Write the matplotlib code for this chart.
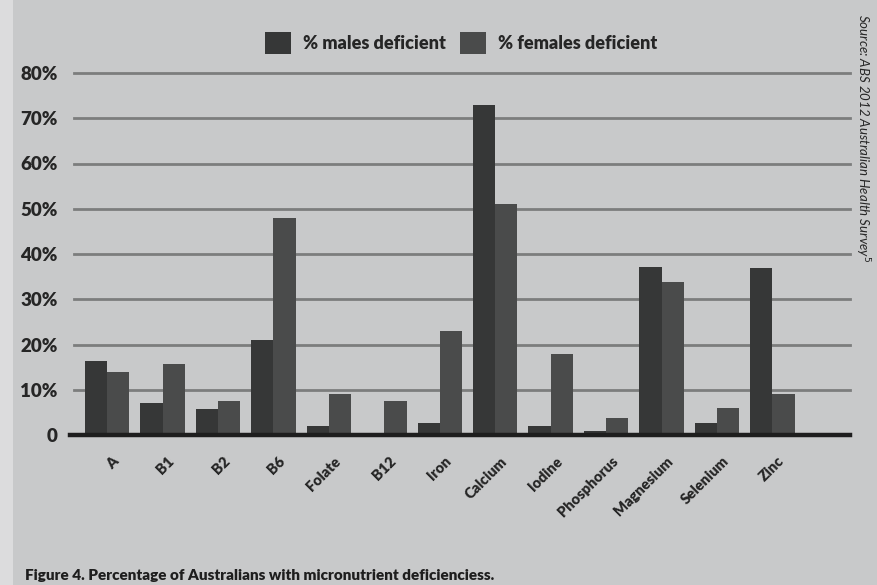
import matplotlib
matplotlib.use("Agg")
import matplotlib.pyplot as plt
import matplotlib.transforms as mtransforms
from matplotlib.patches import Rectangle
import numpy as np

# Micronutrient deficiency rates, ABS 2012 Australian Health Survey
nutrients = ["A", "B1", "B2", "B6", "Folate", "B12", "Iron", "Calcium",
             "Iodine", "Phosphorus", "Magnesium", "Selenium", "Zinc"]
males_pct = [16.4, 7.1, 5.7, 21, 2, 0, 2.6, 73, 2, 0.8, 37.2, 2.7, 37]
females_pct = [14, 15.8, 7.6, 48, 9, 7.6, 23, 51, 17.8, 3.8, 33.9, 5.9, 9]
y_ticks = [0, 10, 20, 30, 40, 50, 60, 70, 80]
y_tick_labels = ["0", "10%", "20%", "30%", "40%", "50%", "60%", "70%", "80%"]

BG = "#c8c9ca"
MALE_C = "#363737"
FEMALE_C = "#4a4b4b"
GRID_C = "#7c7d7d"
TEXT_C = "#262626"
FONT = ["Lato", "DejaVu Sans"]

fig = plt.figure(figsize=(8.77, 5.85), dpi=100, facecolor=BG)
# lighter margin strip along the left edge of the page
fig.patches.append(Rectangle((0, 0), 13 / 877, 1, transform=fig.transFigure,
                             facecolor="#dcdcdd", edgecolor="none", zorder=0))

ax = fig.add_axes([70 / 877, 1 - 435 / 585, (850 - 70) / 877, (435 - 73) / 585])
ax.set_facecolor(BG)

x = np.arange(len(nutrients))
w = 0.4
bm = ax.bar(x - w / 2, males_pct, w, color=MALE_C, zorder=3,
            label="% males deficient")
bf = ax.bar(x + w / 2, females_pct, w, color=FEMALE_C, zorder=3,
            label="% females deficient")

ax.set_xlim(-0.67, 13.4)
ax.set_ylim(0, 80)

# horizontal gridlines
for yv in y_ticks[1:]:
    ax.axhline(yv, color=GRID_C, lw=2.0, zorder=1, clip_on=False,
               xmin=0.005, xmax=1.0)
# baseline
ax.axhline(0, color="#1e1e1e", lw=3.2, zorder=4, clip_on=False)

for s in ax.spines.values():
    s.set_visible(False)

ax.set_yticks(y_ticks)
ax.set_yticklabels(y_tick_labels, family=FONT, fontweight="heavy",
                   fontsize=13.5, color=TEXT_C)
ax.tick_params(axis="y", length=0, pad=9)

ax.set_xticks(x)
ax.set_xticklabels(nutrients, rotation=45, ha="right", va="top",
                   rotation_mode="anchor", family=FONT, fontweight="heavy",
                   fontsize=10.5, color=TEXT_C)
ax.tick_params(axis="x", length=0, pad=14)
offset = mtransforms.ScaledTranslation(5 / 100, 0, fig.dpi_scale_trans)
for lbl in ax.get_xticklabels():
    lbl.set_transform(lbl.get_transform() + offset)

leg = ax.legend(handles=[bm, bf], loc="center", ncol=2,
                bbox_to_anchor=(461 / 877, 1 - 43 / 585),
                bbox_transform=fig.transFigure, frameon=False,
                handlelength=1.45, handleheight=1.55, handletextpad=0.65,
                columnspacing=0.8,
                prop={"family": FONT, "weight": "heavy", "size": 13})
for t in leg.get_texts():
    t.set_color(TEXT_C)

fig.text(862 / 877, 1 - 14 / 585,
         "Source: ABS 2012 Australian Health Survey$^{5}$",
         rotation=-90, ha="center", va="top", family=FONT, style="italic",
         fontsize=9.5, color=TEXT_C)

fig.text(25 / 877, 1 - 576 / 585,
         "Figure 4. Percentage of Australians with micronutrient deficienciess.",
         ha="left", va="center", family=FONT, fontweight="heavy",
         fontsize=11, color="#1e1e1e")

fig.savefig("out.png", dpi=100, facecolor=BG)
